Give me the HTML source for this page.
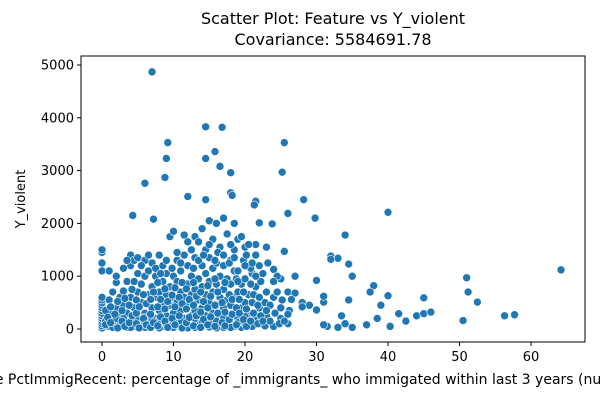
<!DOCTYPE html>
<html><head><meta charset="utf-8"><style>
body{margin:0;background:#fff;}
svg{display:block;font-family:"DejaVu Sans","Liberation Sans",sans-serif;}
</style></head><body>
<svg id="chart" width="600" height="400" xmlns="http://www.w3.org/2000/svg">
<text x="333" y="24" text-anchor="middle" font-size="16">Scatter Plot: Feature vs Y_violent</text>
<text x="333" y="45" text-anchor="middle" font-size="16">Covariance: 5584691.78</text>
<g id="plot"></g>
<rect x="81" y="56" width="504" height="286" fill="none" stroke="#000" stroke-width="1"/>
<g id="xticks"></g>
<g id="yticks"></g>
<text x="333" y="384" text-anchor="middle" font-size="14">Feature  PctImmigRecent: percentage of _immigrants_ who immigated within last 3 years (numeric - decimal)</text>
<text transform="translate(25,199) rotate(-90)" text-anchor="middle" font-size="13">Y_violent</text>
</svg>
<script>
const xTickValues=[0,10,20,30,40,50,60];
const yTickValues=[0,1000,2000,3000,4000,5000];
const samples=[
[0,20],[0,60],[0,100],[0,150],[0,200],[0,250],[0,300],[0,350],[0,400],[0,450],[0,500],[0,550],[0,600],[0,1100],[0,1250],[0,1450],[0,1500],
[1,50],[1,300],[1,550],[1.5,150],[1.5,700],[2,80],[2,400],[2,880],[2.5,250],[2.5,600],[3,100],[3,450],[3,720],[3.5,30],[3.5,300],[3.5,900],[4,150],[4,600],[4,1400],[4,1200],[4.5,50],[4.5,400],[4.5,900],[4.5,1300],[5,200],[5,700],[5,1050],[5,1350],[5.5,100],[5.5,500],[5.5,850],[6,30],[6,300],[6,1000],[6,1300],[6.5,150],[6.5,650],[6.5,1100],[7,50],[7,400],[7,800],[7,1250],[7.5,200],[7.5,600],[7.5,1000],[8,100],[8,350],[8,700],[8,1400],[8.5,50],[8.5,500],[8.5,900],[8.5,1200],[9,250],[9,650],[9,1050],[9.5,100],[9.5,450],[9.5,800],[9.5,1750],[10,30],[10,300],[10,600],[10,1000],[10,1850],[10.5,150],[10.5,500],[10.5,900],[10.5,1300],[11,50],[11,350],[11,700],[11,1100],[11.5,200],[11.5,600],[11.5,1400],[11.5,1780],[12,80],[12,450],[12,850],[12,1200],[12.5,250],[12.5,650],[12.5,1000],[12.5,1500],[13,30],[13,350],[13,750],[13,1350],[13,1750],[13.5,150],[13.5,550],[13.5,950],[13.5,1650],[14,50],[14,400],[14,800],[14,1200],[14,1900],[14.5,250],[14.5,650],[14.5,1050],[14.5,1500],[15,100],[15,500],[15,900],[15,1350],[15,2050],[15.5,300],[15.5,700],[15.5,1150],[15.5,1700],[16,50],[16,450],[16,850],[16,1250],[16,2000],[16.5,200],[16.5,600],[16.5,1000],[16.5,1550],[17,30],[17,400],[17,750],[17,1200],[17,2100],[17.5,250],[17.5,550],[17.5,950],[17.5,1800],[18,100],[18,450],[18,850],[18,1300],[18.5,50],[18.5,600],[18.5,1100],[18.5,1500],[19,200],[19,700],[19,1700],[19.5,30],[19.5,400],[19.5,850],[20,100],[20,500],[20,950],[20,1550],[20.5,300],[20.5,650],[21,50],[21,500],[21,1050],[21.5,200],[21.5,800],[21.5,1600],[22,100],[22,400],[22,1200],[23,250],[23,700],[23,1550],[24,50],[24,600],[25,200],[25,950],[26,100],[26,700],
[0.5,150],[1.5,30],[2.5,80],[3,200],[4,30],[5,60],[6,120],[7,180],[8,20],[9,90],[11,160],[12,20],[13,200],[14,130],[15,40],[16,150],[17,220],[18,30],[19,120],[20,240],[16,20],[10,140],[6,220],[2,200],
[0.5,80],[0.5,350],[0.8,220],[1.2,120],[1.2,420],[1.8,280],[2.2,20],[2.2,520],[2.8,150],[2.8,350],[3.2,50],[3.2,580],[3.8,120],[3.8,450],[4.2,250],[4.2,750],[4.8,100],[4.8,300],[4.8,550],[5.2,20],[5.2,420],[5.8,200],[5.8,650],[6.2,80],[6.2,480],[6.8,30],[6.8,280],[6.8,560],[7.2,120],[7.2,700],[7.8,60],[7.8,420],[7.8,880],[8.2,230],[8.2,560],[8.8,150],[8.8,380],[8.8,760],[9.2,30],[9.2,520],[9.8,200],[9.8,640],[10.2,80],[10.2,420],[10.2,780],[10.8,250],[10.8,600],[11.2,20],[11.2,480],[11.2,880],[11.8,120],[11.8,380],[11.8,760],[12.2,220],[12.2,560],[12.8,60],[12.8,450],[12.8,880],[13.2,250],[13.2,620],[13.8,30],[13.8,320],[13.8,700],[14.2,180],[14.2,520],[14.8,80],[14.8,400],[14.8,820],[15.2,230],[15.2,620],[15.8,50],[15.8,450],[15.8,950],[16.2,300],[16.2,700],[16.8,120],[16.8,500],[17.2,60],[17.2,320],[17.2,880],[17.8,180],[17.8,650],[18.2,280],[18.2,560],[18.8,80],[18.8,400],[18.8,950],[19.2,300],[19.2,560],[19.8,180],[19.8,700],[20.2,50],[20.2,380],[20.8,150],[20.8,850],[21.2,300],[21.2,650],[21.8,100],[21.8,450],[22.2,250],[22.2,900],[22.8,60],[22.8,500],[23.5,150],[23.5,450],[24.2,300],[24.8,100],[25.2,550],[26.2,350],
[1,1100],[2,1000],[3,1150],[3.5,1300],[5.5,1200],[6.5,1400],[7.5,1150],[8.2,1050],[9,1300],[9.8,1150],[10.5,1450],[11,1250],[12,1650],[12.8,1150],[13.5,1300],[14.2,1400],[15,1600],[15.8,1300],[16.2,1450],[17,1400],[17.8,1250],[18.5,1350],[19,1100],[19.8,1300],[20.2,1400],[20.8,1150],[21.5,1400],[22.5,1050],[23.2,1250],[24.5,1000],
[7,4870],[14.5,3830],[16.8,3820],[9.2,3530],[25.5,3530],[15.8,3360],[9,3230],[14.5,3230],[16.5,3080],[18,2960],[25.2,2970],[8.8,2870],[6,2760],[18,2580],[18.2,2530],[12,2510],[14.5,2450],[28.2,2450],[21.5,2420],[21.3,2350],[26,2190],[4.3,2150],[29.8,2100],[7.2,2080],[40,2210],[22,2010],[23.8,1990],[34,1780],[33,1340],[34.5,1230],[25.5,1470],[38,820],[40,630],[37.5,700],[41.5,290],[44,250],[45,590],[45,290],[46,320],[50.5,160],[51,970],[51.2,700],[52.5,510],[56.3,250],[57.7,270],[64.2,1120],[38.5,200],[39,450],[42.5,150],[40.3,50],[37,80],[35,30],[33,30],[31.5,50],[31,80],[30,360],[31,510],[31,620],[32,1380],[32,1320],[34,100],[33.5,250],[34.5,550],[35,1000],[30,920],[29,450],[28,500],[28,420],[27,680],[27,1000],[26.5,560],[26,280],[25.5,150],[25,400],[24.5,700],[24,1130],[24,900],[23,350],[22.5,150],[22,600],[21.5,1000],[21,1250],[20.5,1600],[20,1200],[19.5,1750],[19,900],[18.5,2000],[18,1600]
];
const NS="http://www.w3.org/2000/svg";
const xScale=v=>102+v*7.15;
const yScale=v=>329-v*0.0528;
const plot=document.getElementById('plot');
samples.forEach(p=>{
 const c=document.createElementNS(NS,'circle');
 c.setAttribute('cx',xScale(p[0]));c.setAttribute('cy',yScale(p[1]));c.setAttribute('r',4);
 c.setAttribute('fill','#1f77b4');c.setAttribute('stroke','#fff');c.setAttribute('stroke-width','0.6');
 
 
 plot.appendChild(c);
});
const xt=document.getElementById('xticks');
xTickValues.forEach(v=>{
 const l=document.createElementNS(NS,'line');
 l.setAttribute('x1',xScale(v));l.setAttribute('x2',xScale(v));l.setAttribute('y1',342);l.setAttribute('y2',346);l.setAttribute('stroke','#000');
 
 
 xt.appendChild(l);
 const t=document.createElementNS(NS,'text');
 t.setAttribute('x',xScale(v));t.setAttribute('y',361);t.setAttribute('text-anchor','middle');t.setAttribute('font-size','13');
 t.textContent=v;
 
 
 xt.appendChild(t);
});
const yt=document.getElementById('yticks');
yTickValues.forEach(v=>{
 const l=document.createElementNS(NS,'line');
 l.setAttribute('x1',77);l.setAttribute('x2',81);l.setAttribute('y1',yScale(v));l.setAttribute('y2',yScale(v));l.setAttribute('stroke','#000');
 
 
 yt.appendChild(l);
 const t=document.createElementNS(NS,'text');
 t.setAttribute('x',74);t.setAttribute('y',yScale(v)+4.5);t.setAttribute('text-anchor','end');t.setAttribute('font-size','13');
 t.textContent=v;
 
 
 yt.appendChild(t);
});
</script>
</body></html>
